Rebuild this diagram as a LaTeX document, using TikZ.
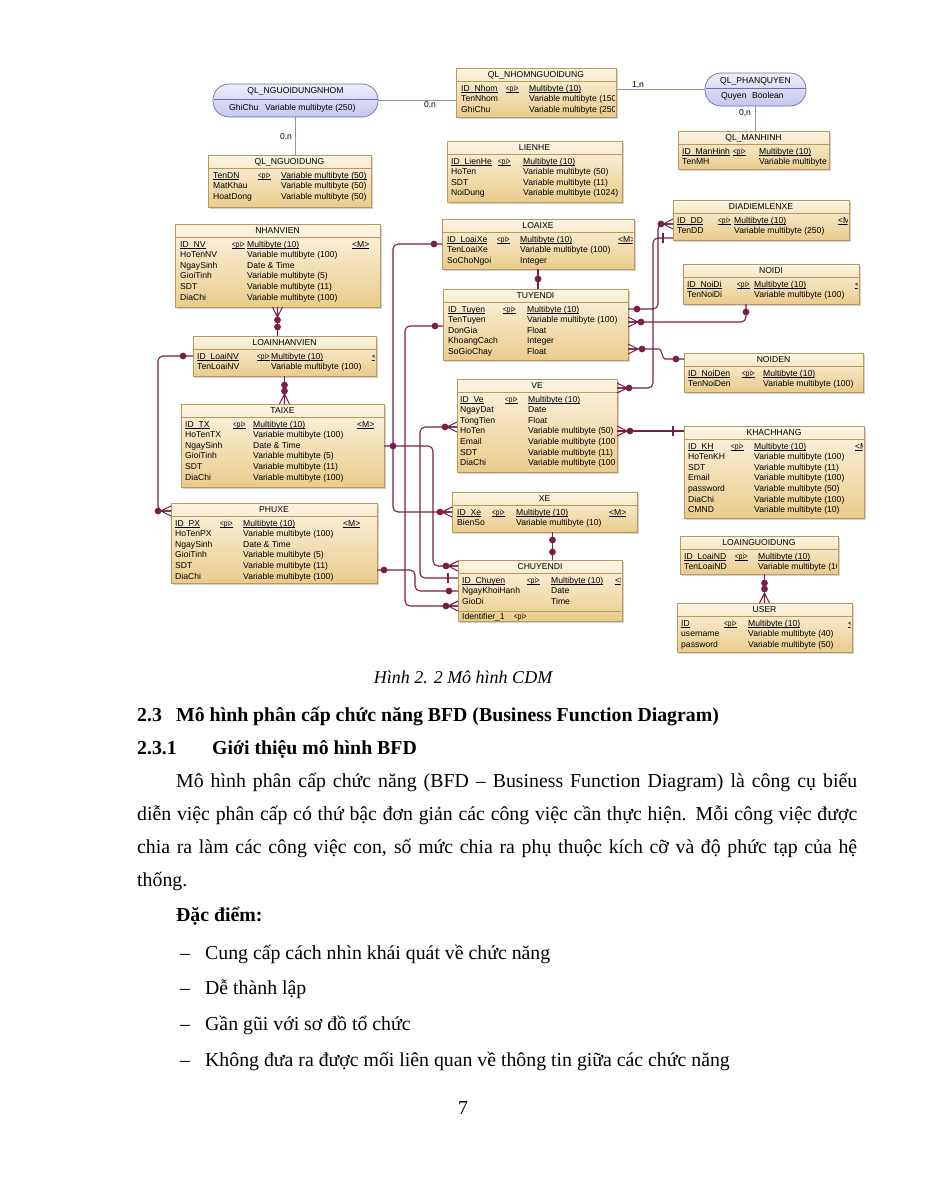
\documentclass[tikz,border=0pt]{standalone}
\usepackage{fontspec}
\usepackage{graphicx}
\setmainfont{Liberation Serif}
\newfontfamily\erfont{Liberation Sans}
\usetikzlibrary{calc}

\definecolor{relcol}{HTML}{7A1E48}
\definecolor{entborder}{HTML}{B89A5E}
\definecolor{entlight}{HTML}{FCF5E3}
\definecolor{entdark}{HTML}{EACB8C}
\definecolor{assoclight}{HTML}{EEEEFC}
\definecolor{assocdark}{HTML}{C6C6EE}
\definecolor{assocborder}{HTML}{6C6CB4}
\definecolor{assocline}{HTML}{9090B8}

\newcommand\ul[1]{\underline{\smash{#1}}}
\newcommand\pk{\scalebox{0.75}[1]{<pi>}}
\newcommand\cols[4]{\def\colA{#1}\def\colB{#2}\def\colC{#3}\def\colD{#4}}
\newcommand\erow[6]{%
  \node[attr] (#1) at (\colA,\etop+23+10.6*#2) {#3};
  \node[attr] (#1-pi) at (\colB,\etop+23+10.6*#2) {#4};
  \node[attr] (#1-type) at (\colC,\etop+23+10.6*#2) {#5};
  \node[attr] (#1-m) at (\colD,\etop+23+10.6*#2) {#6};}
\newcommand\entity[7]{%
  \fill[gray!35] (#2+2,#3+2) rectangle (#4+2,#5+2);
  \node[ent, minimum width=#4-#2, minimum height=#5-#3] (#1) at ({(#2+#4)/2},{(#3+#5)/2}) {};
  \node[etitle] (#1-title) at ({(#2+#4)/2},#3+7) {#6};
  \draw[entborder, line width=0.7pt] (#2,#3+13.5) -- (#4,#3+13.5);
  \begin{scope}
    \clip (#2,#3) rectangle (#4-1.5,#5);
    \def\etop{#3}
    #7
  \end{scope}}
\newcommand\dotat[1]{\fill[relcol] #1 circle[radius=3.4pt];}
\newcommand\crowfoot[3]{%
  \begin{scope}[shift={#1}]
    \draw[rel] ({10*(#2)},{10*(#3)}) -- ({5*(#3)},{5*(#2)})
               ({10*(#2)},{10*(#3)}) -- (0,0)
               ({10*(#2)},{10*(#3)}) -- ({-5*(#3)},{-5*(#2)});
  \end{scope}}

\begin{document}
\begin{tikzpicture}[
    x=1pt, y=-1pt,
    ent/.style={draw=entborder, line width=0.7pt, top color=entlight, bottom color=entdark, inner sep=0pt, outer sep=0pt},
    assoc/.style={draw=assocborder, line width=0.7pt, rounded corners=16pt, top color=assoclight, bottom color=assocdark, inner sep=0pt, outer sep=0pt},
    etitle/.style={inner sep=0pt, font=\erfont\fontsize{8.6}{10}\selectfont},
    attr/.style={anchor=base west, inner sep=0pt, font=\erfont\fontsize{8.6}{10}\selectfont},
    card/.style={inner sep=0pt, font=\erfont\fontsize{8.6}{10}\selectfont},
    rel/.style={draw=relcol, line width=1.1pt, rounded corners=5pt},
    alink/.style={draw=assocline, line width=1.4pt},
    bodytext/.style={anchor=base west, inner sep=0pt, font=\fontsize{19.8}{24}\selectfont},
    headtext/.style={bodytext, font=\fontsize{19.8}{24}\selectfont\bfseries}
]
    \fill[white] (0,0) rectangle (927,1200);
    \useasboundingbox (0,0) rectangle (927,1200);

    % associations
    \node[assoc, minimum width=165, minimum height=33] (qlndnhom) at (295.5,100.5) {};
    \draw[assocborder, line width=0.7pt] (213.5,99) -- (377.5,99);
    \node[etitle] (qlndnhom-title) at (295.5,91) {QL\_NGUOIDUNGNHOM};
    \node[attr] (qlndnhom-a) at (229,110) {GhiChu};
    \node[attr] (qlndnhom-b) at (265,110) {Variable multibyte (250)};

    \node[assoc, minimum width=101, minimum height=33] (qlphanquyen) at (755.5,89.5) {};
    \draw[assocborder, line width=0.7pt] (705.5,88) -- (805.5,88);
    \node[etitle] (qlphanquyen-title) at (755.5,81) {QL\_PHANQUYEN};
    \node[attr] (qlphanquyen-a) at (721,98) {Quyen};
    \node[attr] (qlphanquyen-b) at (752,98) {Boolean};

    % entities
    \entity{qlnd}{208}{155}{371}{207}{QL\_NGUOIDUNG}{
      \cols{213}{258}{281}{0}
      \erow{qlnd-0}{0}{\ul{TenDN}}{\ul{\pk}}{\ul{Variable multibyte (50)}}{}
      \erow{qlnd-1}{1}{MatKhau}{}{Variable multibyte (50)}{}
      \erow{qlnd-2}{2}{HoatDong}{}{Variable multibyte (50)}{}}

    \entity{qlnhom}{456}{68}{616}{117}{QL\_NHOMNGUOIDUNG}{
      \cols{461}{506}{529}{0}
      \erow{qlnhom-0}{0}{\ul{ID\_Nhom}}{\ul{\pk}}{\ul{Multibyte (10)}}{}
      \erow{qlnhom-1}{1}{TenNhom}{}{Variable multibyte (150)}{}
      \erow{qlnhom-2}{2}{GhiChu}{}{Variable multibyte (250)}{}}

    \entity{qlmh}{678}{131}{829}{169}{QL\_MANHINH}{
      \cols{682}{733}{759}{0}
      \erow{qlmh-0}{0}{\ul{ID\_ManHinh}}{\ul{\pk}}{\ul{Multibyte (10)}}{}
      \erow{qlmh-1}{1}{TenMH}{}{Variable multibyte (50)}{}}

    \entity{lienhe}{447}{141}{622}{202}{LIENHE}{
      \cols{451}{498}{523}{0}
      \erow{lienhe-0}{0}{\ul{ID\_LienHe}}{\ul{\pk}}{\ul{Multibyte (10)}}{}
      \erow{lienhe-1}{1}{HoTen}{}{Variable multibyte (50)}{}
      \erow{lienhe-2}{2}{SDT}{}{Variable multibyte (11)}{}
      \erow{lienhe-3}{3}{NoiDung}{}{Variable multibyte (1024)}{}}

    \entity{nhanvien}{175}{224}{380}{307}{NHANVIEN}{
      \cols{180}{232}{247}{352}
      \erow{nv-0}{0}{\ul{ID\_NV}}{\ul{\pk}}{\ul{Multibyte (10)}}{\ul{<M>}}
      \erow{nv-1}{1}{HoTenNV}{}{Variable multibyte (100)}{}
      \erow{nv-2}{2}{NgaySinh}{}{Date \& Time}{}
      \erow{nv-3}{3}{GioiTinh}{}{Variable multibyte (5)}{}
      \erow{nv-4}{4}{SDT}{}{Variable multibyte (11)}{}
      \erow{nv-5}{5}{DiaChi}{}{Variable multibyte (100)}{}}

    \entity{loainv}{193}{336}{376}{376}{LOAINHANVIEN}{
      \cols{197}{257}{271}{372}
      \erow{lnv-0}{0}{\ul{ID\_LoaiNV}}{\ul{\pk}}{\ul{Multibyte (10)}}{\ul{<M>}}
      \erow{lnv-1}{1}{TenLoaiNV}{}{Variable multibyte (100)}{}}

    \entity{taixe}{181}{404}{384}{487}{TAIXE}{
      \cols{185}{233}{253}{357}
      \erow{tx-0}{0}{\ul{ID\_TX}}{\ul{\pk}}{\ul{Multibyte (10)}}{\ul{<M>}}
      \erow{tx-1}{1}{HoTenTX}{}{Variable multibyte (100)}{}
      \erow{tx-2}{2}{NgaySinh}{}{Date \& Time}{}
      \erow{tx-3}{3}{GioiTinh}{}{Variable multibyte (5)}{}
      \erow{tx-4}{4}{SDT}{}{Variable multibyte (11)}{}
      \erow{tx-5}{5}{DiaChi}{}{Variable multibyte (100)}{}}

    \entity{phuxe}{171}{503}{377}{583}{PHUXE}{
      \cols{175}{220}{243}{343}
      \erow{px-0}{0}{\ul{ID\_PX}}{\ul{\pk}}{\ul{Multibyte (10)}}{\ul{<M>}}
      \erow{px-1}{1}{HoTenPX}{}{Variable multibyte (100)}{}
      \erow{px-2}{2}{NgaySinh}{}{Date \& Time}{}
      \erow{px-3}{3}{GioiTinh}{}{Variable multibyte (5)}{}
      \erow{px-4}{4}{SDT}{}{Variable multibyte (11)}{}
      \erow{px-5}{5}{DiaChi}{}{Variable multibyte (100)}{}}

    \entity{loaixe}{442}{219}{634}{269}{LOAIXE}{
      \cols{447}{497}{520}{618}
      \erow{lx-0}{0}{\ul{ID\_LoaiXe}}{\ul{\pk}}{\ul{Multibyte (10)}}{\ul{<M>}}
      \erow{lx-1}{1}{TenLoaiXe}{}{Variable multibyte (100)}{}
      \erow{lx-2}{2}{SoChoNgoi}{}{Integer}{}}

    \entity{tuyendi}{443}{289}{628}{360}{TUYENDI}{
      \cols{448}{503}{527}{0}
      \erow{td-0}{0}{\ul{ID\_Tuyen}}{\ul{\pk}}{\ul{Multibyte (10)}}{}
      \erow{td-1}{1}{TenTuyen}{}{Variable multibyte (100)}{}
      \erow{td-2}{2}{DonGia}{}{Float}{}
      \erow{td-3}{3}{KhoangCach}{}{Integer}{}
      \erow{td-4}{4}{SoGioChay}{}{Float}{}}

    \entity{diadiem}{673}{200}{849}{240}{DIADIEMLENXE}{
      \cols{677}{718}{734}{838}
      \erow{dd-0}{0}{\ul{ID\_DD}}{\ul{\pk}}{\ul{Multibyte (10)}}{\ul{<M>}}
      \erow{dd-1}{1}{TenDD}{}{Variable multibyte (250)}{}}

    \entity{noidi}{683}{264}{859}{304}{NOIDI}{
      \cols{687}{737}{754}{855}
      \erow{ndi-0}{0}{\ul{ID\_NoiDi}}{\ul{\pk}}{\ul{Multibyte (10)}}{\ul{<M>}}
      \erow{ndi-1}{1}{TenNoiDi}{}{Variable multibyte (100)}{}}

    \entity{noiden}{684}{353}{863}{392}{NOIDEN}{
      \cols{688}{742}{763}{0}
      \erow{nde-0}{0}{\ul{ID\_NoiDen}}{\ul{\pk}}{\ul{Multibyte (10)}}{}
      \erow{nde-1}{1}{TenNoiDen}{}{Variable multibyte (100)}{}}

    \entity{ve}{457}{379}{617}{472}{VE}{
      \cols{460}{505}{528}{0}
      \erow{ve-0}{0}{\ul{ID\_Ve}}{\ul{\pk}}{\ul{Multibyte (10)}}{}
      \erow{ve-1}{1}{NgayDat}{}{Date}{}
      \erow{ve-2}{2}{TongTien}{}{Float}{}
      \erow{ve-3}{3}{HoTen}{}{Variable multibyte (50)}{}
      \erow{ve-4}{4}{Email}{}{Variable multibyte (100)}{}
      \erow{ve-5}{5}{SDT}{}{Variable multibyte (11)}{}
      \erow{ve-6}{6}{DiaChi}{}{Variable multibyte (100)}{}}

    \entity{khachhang}{684}{426}{864}{518}{KHACHHANG}{
      \cols{688}{731}{754}{855}
      \erow{kh-0}{0}{\ul{ID\_KH}}{\ul{\pk}}{\ul{Multibyte (10)}}{\ul{<M>}}
      \erow{kh-1}{1}{HoTenKH}{}{Variable multibyte (100)}{}
      \erow{kh-2}{2}{SDT}{}{Variable multibyte (11)}{}
      \erow{kh-3}{3}{Email}{}{Variable multibyte (100)}{}
      \erow{kh-4}{4}{password}{}{Variable multibyte (50)}{}
      \erow{kh-5}{5}{DiaChi}{}{Variable multibyte (100)}{}
      \erow{kh-6}{6}{CMND}{}{Variable multibyte (10)}{}}

    \entity{xe}{452}{492}{637}{532}{XE}{
      \cols{457}{492}{516}{609}
      \erow{xe-0}{0}{\ul{ID\_Xe}}{\ul{\pk}}{\ul{Multibyte (10)}}{\ul{<M>}}
      \erow{xe-1}{1}{BienSo}{}{Variable multibyte (10)}{}}

    \entity{chuyendi}{458}{560}{622}{621}{CHUYENDI}{
      \cols{462}{527}{551}{615}
      \erow{cd-0}{0}{\ul{ID\_Chuyen}}{\ul{\pk}}{\ul{Multibyte (10)}}{\ul{<M>}}
      \erow{cd-1}{1}{NgayKhoiHanh}{}{Date}{}
      \erow{cd-2}{2}{GioDi}{}{Time}{}
      \draw[entborder, line width=0.7pt] (458,611) -- (622,611);
      \node[attr] (cd-id) at (462,619.5) {Identifier\_1};
      \node[attr] (cd-idpi) at (514,619.5) {\pk};}

    \entity{loaind}{680}{536}{838}{574}{LOAINGUOIDUNG}{
      \cols{684}{735}{758}{0}
      \erow{lnd-0}{0}{\ul{ID\_LoaiND}}{\ul{\pk}}{\ul{Multibyte (10)}}{}
      \erow{lnd-1}{1}{TenLoaiND}{}{Variable multibyte (100)}{}}

    \entity{user}{677}{603}{852}{652}{USER}{
      \cols{681}{724}{748}{848}
      \erow{us-0}{0}{\ul{ID}}{\ul{\pk}}{\ul{Multibyte (10)}}{\ul{<M>}}
      \erow{us-1}{1}{username}{}{Variable multibyte (40)}{}
      \erow{us-2}{2}{password}{}{Variable multibyte (50)}{}}

    % association links
    \draw[alink] (qlndnhom.east) -- (qlndnhom.east -| qlnhom.west);
    \node[card] (card1) at (430,105) {0,n};
    \draw[alink] (qlndnhom.south) -- (qlndnhom.south |- qlnd.north);
    \node[card] (card2) at (286,137) {0,n};
    \draw[alink] (qlphanquyen.west) -- (qlphanquyen.west -| qlnhom.east);
    \node[card] (card3) at (638,85) {1,n};
    \draw[alink] (qlphanquyen.south) -- (qlphanquyen.south |- qlmh.north);
    \node[card] (card4) at (745,113) {0,n};

    % NHANVIEN - LOAINHANVIEN
    \draw[rel] (nhanvien.south) -- (nhanvien.south |- loainv.north);
    \crowfoot{(nhanvien.south)}{0}{1}
    \dotat{([yshift=-13pt]nhanvien.south)}
    \dotat{([yshift=-20pt]nhanvien.south)}

    % LOAINHANVIEN - PHUXE
    \draw[rel] ([yshift=-20pt]loainv.north west) -| (158,511) -- ([yshift=-8pt]phuxe.north west);
    \dotat{([xshift=-10pt,yshift=-20pt]loainv.north west)}
    \crowfoot{([yshift=-8pt]phuxe.north west)}{-1}{0}
    \dotat{([xshift=-13pt,yshift=-8pt]phuxe.north west)}

    % LOAINHANVIEN - TAIXE
    \draw[rel] (loainv.south) -- (loainv.south |- taixe.north);
    \dotat{([yshift=-9pt]loainv.south)}
    \dotat{([yshift=-15pt]loainv.south)}
    \crowfoot{(loainv.south |- taixe.north)}{0}{-1}

    % LOAIXE - XE
    \draw[rel] ([yshift=-25pt]loaixe.north west) -| (393,512) -- ([yshift=-20pt]xe.north west);
    \dotat{([xshift=-8pt,yshift=-25pt]loaixe.north west)}
    \crowfoot{([yshift=-20pt]xe.north west)}{-1}{0}
    \dotat{([xshift=-12pt,yshift=-20pt]xe.north west)}

    % TAIXE - CHUYENDI
    \draw[rel] ([yshift=-42pt]taixe.north east) -| (433,566) -- ([yshift=-6pt]chuyendi.north west);
    \dotat{([xshift=9pt,yshift=-42pt]taixe.north east)}
    \crowfoot{([yshift=-6pt]chuyendi.north west)}{-1}{0}
    \dotat{([xshift=-12pt,yshift=-6pt]chuyendi.north west)}

    % TUYENDI - CHUYENDI
    \draw[rel] ([yshift=-37pt]tuyendi.north west) -| (405,606) -- ([yshift=-46pt]chuyendi.north west);
    \dotat{([xshift=-8pt,yshift=-37pt]tuyendi.north west)}
    \crowfoot{([yshift=-46pt]chuyendi.north west)}{-1}{0}
    \dotat{([xshift=-12pt,yshift=-46pt]chuyendi.north west)}

    % VE - CHUYENDI
    \draw[rel] ([yshift=-48pt]ve.north west) -| (420,578) -- ([yshift=-18pt]chuyendi.north west);
    \crowfoot{([yshift=-48pt]ve.north west)}{-1}{0}
    \dotat{([xshift=-12pt,yshift=-48pt]ve.north west)}
    \draw[rel] ([xshift=-10pt,yshift=-13pt]chuyendi.north west) -- ([xshift=-10pt,yshift=-23pt]chuyendi.north west);

    % PHUXE - CHUYENDI
    \draw[rel] ([yshift=-67pt]phuxe.north east) -| (415,591) -- ([yshift=-31pt]chuyendi.north west);
    \dotat{([xshift=7pt,yshift=-67pt]phuxe.north east)}
    \dotat{([xshift=-9pt,yshift=-31pt]chuyendi.north west)}

    % LOAIXE - TUYENDI
    \draw[rel] (loaixe.south) -- (loaixe.south |- tuyendi.north);
    \dotat{([yshift=-10pt]loaixe.south)}

    % TUYENDI - DIADIEMLENXE
    \draw[rel] ([yshift=-20pt]tuyendi.north east) -| (658,224) -- ([yshift=-24pt]diadiem.north west);
    \dotat{([xshift=9pt,yshift=-20pt]tuyendi.north east)}
    \crowfoot{([yshift=-24pt]diadiem.north west)}{-1}{0}
    \dotat{([xshift=-12pt,yshift=-24pt]diadiem.north west)}

    % VE - DIADIEMLENXE
    \draw[rel] ([yshift=-9pt]ve.north east) -| (653,238) -- ([yshift=-38pt]diadiem.north west);
    \crowfoot{([yshift=-9pt]ve.north east)}{1}{0}
    \dotat{([xshift=12pt,yshift=-9pt]ve.north east)}
    \draw[rel] ([xshift=-10pt,yshift=-33pt]diadiem.north west) -- ([xshift=-10pt,yshift=-43pt]diadiem.north west);

    % TUYENDI - NOIDI
    \draw[rel] ([yshift=-33pt]tuyendi.north east) -| ([xshift=63pt]noidi.south west);
    \crowfoot{([yshift=-33pt]tuyendi.north east)}{1}{0}
    \dotat{([xshift=13pt,yshift=-33pt]tuyendi.north east)}
    \dotat{([xshift=63pt,yshift=-8pt]noidi.south west)}

    % TUYENDI - NOIDEN
    \draw[rel] ([yshift=-60pt]tuyendi.north east) -- ++(26,0) .. controls +(8,0) and +(-8,0) .. ++(16,10) -- ([yshift=-6pt]noiden.north west);
    \crowfoot{([yshift=-60pt]tuyendi.north east)}{1}{0}
    \dotat{([xshift=14pt,yshift=-60pt]tuyendi.north east)}
    \dotat{([xshift=-8pt,yshift=-6pt]noiden.north west)}

    % VE - KHACHHANG
    \draw[rel] ([yshift=-52pt]ve.north east) -- ([yshift=-5pt]khachhang.north west);
    \crowfoot{([yshift=-52pt]ve.north east)}{1}{0}
    \dotat{([xshift=13pt,yshift=-52pt]ve.north east)}
    \draw[rel] ([xshift=-11pt]khachhang.north west) -- ([xshift=-11pt,yshift=-10pt]khachhang.north west);

    % XE - CHUYENDI
    \coordinate (xec) at ([xshift=8pt]xe.south);
    \draw[rel] (xec) -- (xec |- chuyendi.north);
    \dotat{([yshift=-8pt]xec)}
    \dotat{([yshift=-20pt]xec)}

    % LOAINGUOIDUNG - USER
    \coordinate (lu) at (user.north |- loaind.south);
    \draw[rel] (lu) -- (user.north);
    \dotat{([yshift=-9pt]lu)}
    \dotat{([yshift=-15pt]lu)}
    \crowfoot{(user.north)}{0}{-1}

    % page text
    \node[anchor=base, inner sep=0pt, font=\fontsize{18}{22}\selectfont\itshape] (caption) at (463,683) {Hình 2. 2 Mô hình CDM};
    \node[headtext] (h23num) at (137,721) {2.3};
    \node[headtext] (h23) at (176,721) {Mô hình phân cấp chức năng BFD (Business Function Diagram)};
    \node[headtext] (h231num) at (137,754) {2.3.1};
    \node[headtext] (h231) at (212,754) {Giới thiệu mô hình BFD};
    \node[bodytext] (p1) at (176,787) {\makebox[681pt][s]{Mô hình phân cấp chức năng (BFD – Business Function Diagram) là công cụ biểu}};
    \node[bodytext] (p2) at (137,820) {\makebox[720pt][s]{diễn việc phân cấp có thứ bậc đơn giản các công việc cần thực hiện. Mỗi công việc được}};
    \node[bodytext] (p3) at (137,853) {\makebox[720pt][s]{chia ra làm các công việc con, số mức chia ra phụ thuộc kích cỡ và độ phức tạp của hệ}};
    \node[bodytext] (p4) at (137,886) {thống.};
    \node[headtext] (dd) at (176,921) {Đặc điểm:};
    \foreach \i/\t in {0/{Cung cấp cách nhìn khái quát về chức năng}, 1/{Dễ thành lập}, 2/{Gần gũi với sơ đồ tổ chức}, 3/{Không đưa ra được mối liên quan về thông tin giữa các chức năng}} {
        \node[bodytext] (dash\i) at (180,959+35.7*\i) {–};
        \node[bodytext] (item\i) at (205,959+35.7*\i) {\t};
    }
    \node[anchor=base, inner sep=0pt, font=\fontsize{19.8}{24}\selectfont] (pagenum) at (463,1114) {7};
\end{tikzpicture}
\end{document}
